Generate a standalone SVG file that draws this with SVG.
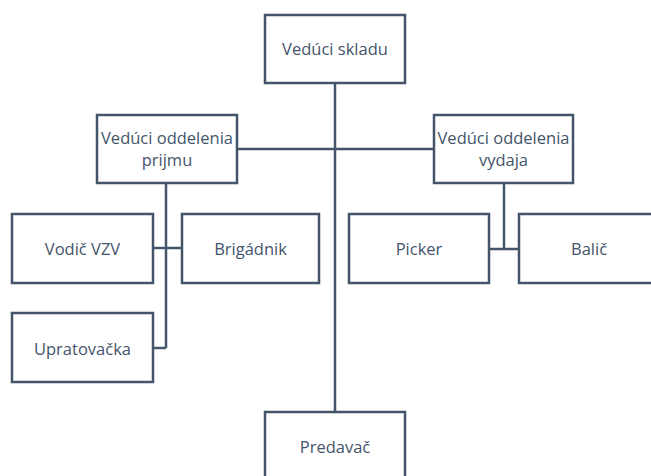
<svg xmlns="http://www.w3.org/2000/svg" width="651" height="476" viewBox="0 0 651 476">
<style>
.box{fill:#ffffff;stroke:#44546A;stroke-width:2.5}
.lbl{font-family:"Open Sans",Lato,sans-serif;font-size:16.5px;fill:#44546A;text-anchor:middle}
.con{stroke:#44546A;stroke-width:2.5;fill:none}
</style>
<rect width="651" height="476" fill="#ffffff"/>
<g id="connectors">
<line class="con" x1="335" y1="83" x2="335" y2="412"/>
<line class="con" x1="237" y1="149" x2="434" y2="149"/>
<line class="con" x1="166" y1="183" x2="166" y2="348"/>
<line class="con" x1="153" y1="248" x2="182" y2="248"/>
<line class="con" x1="153" y1="348" x2="166" y2="348"/>
<line class="con" x1="504" y1="183" x2="504" y2="249"/>
<line class="con" x1="489" y1="249" x2="519" y2="249"/>
</g>
<g id="veduci-skladu">
<rect class="box" x="265" y="15" width="140" height="68"/>
<text class="lbl" x="335" y="55">Vedúci skladu</text>
</g>
<g id="veduci-prijmu">
<rect class="box" x="97" y="115" width="140" height="68"/>
<text class="lbl" x="167" y="143.5">Vedúci oddelenia</text>
<text class="lbl" x="167" y="165.5">prijmu</text>
</g>
<g id="veduci-vydaja">
<rect class="box" x="434" y="115" width="139" height="68"/>
<text class="lbl" x="503.5" y="143.5">Vedúci oddelenia</text>
<text class="lbl" x="503.5" y="165.5">vydaja</text>
</g>
<g id="vodic-vzv">
<rect class="box" x="12" y="214" width="141" height="69"/>
<text class="lbl" x="82.5" y="254.5">Vodič VZV</text>
</g>
<g id="brigadnik">
<rect class="box" x="182" y="214" width="137" height="69"/>
<text class="lbl" x="250.5" y="254.5">Brigádnik</text>
</g>
<g id="upratovacka">
<rect class="box" x="12" y="313" width="141" height="69"/>
<text class="lbl" x="82.5" y="354.5">Upratovačka</text>
</g>
<g id="picker">
<rect class="box" x="349" y="214" width="140" height="69"/>
<text class="lbl" x="419" y="254.5">Picker</text>
</g>
<g id="balic">
<rect class="box" x="519" y="214" width="140" height="69"/>
<text class="lbl" x="589" y="254.5">Balič</text>
</g>
<g id="predavac">
<rect class="box" x="265" y="412" width="140" height="68"/>
<text class="lbl" x="335" y="452.5">Predavač</text>
</g>
</svg>
